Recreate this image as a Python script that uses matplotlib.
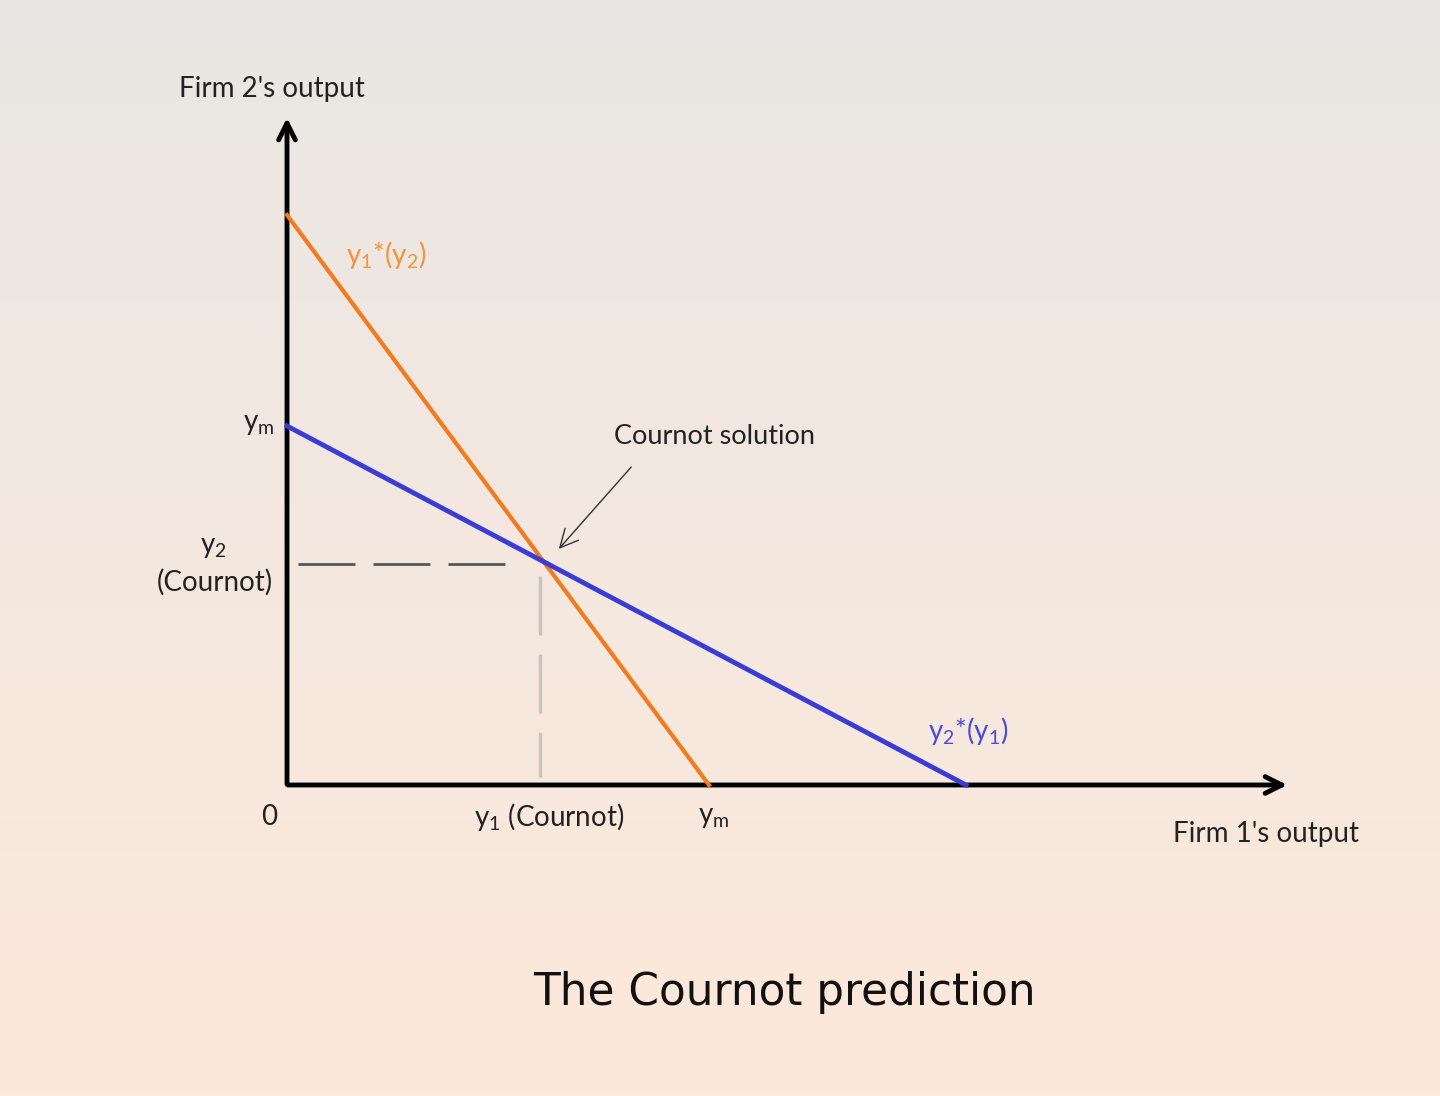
import numpy as np
import matplotlib.pyplot as plt
from matplotlib.colors import LinearSegmentedColormap

# Reaction functions (drawing units, origin at the axes corner)
orange_x = [0, 422]     # y1*(y2): firm 1's best response
orange_y = [570, 0]
blue_x = [0, 679]       # y2*(y1): firm 2's best response
blue_y = [359, 0]
cournot = (256, 221)    # intersection
ym_x = 422              # monopoly output on x axis
ym_y = 359              # monopoly output on y axis
x_end = 1003            # axis arrow tips
y_end = 670

plt.rcParams['font.family'] = ['Lato', 'DejaVu Sans']
plt.rcParams['mathtext.default'] = 'regular'

fig = plt.figure(figsize=(14.4, 10.96), dpi=100)
ax = fig.add_axes([0, 0, 1, 1])
ax.set_xlim(-287, 1440 - 287)
ax.set_ylim(-(1096 - 785), 785)
ax.axis('off')

# Background gradient, gray on top to peach at the bottom
cmap = LinearSegmentedColormap.from_list('bg', ['#fde9db', '#f4e8df', '#e9e7e4'])
grad = np.linspace(0, 1, 256).reshape(-1, 1)
ax.imshow(grad, cmap=cmap, aspect='auto', origin='lower',
          extent=[-287, 1440 - 287, -(1096 - 785), 785], zorder=0)

# Axes with arrows
ax.annotate('', xy=(x_end, 0), xytext=(-2, 0),
            arrowprops=dict(arrowstyle='->,head_length=1.2,head_width=0.6', lw=3.5, color='black'))
ax.annotate('', xy=(0, y_end), xytext=(0, -2),
            arrowprops=dict(arrowstyle='->,head_length=1.2,head_width=0.6', lw=3.5, color='black'))

# Dashed guides (drawn away from the axes so the pattern starts at the left / top)
ax.plot([11, cournot[0] - 21], [cournot[1], cournot[1]], color='#555555', lw=2,
        dashes=(20.5, 6.5), zorder=2)
ax.plot([253, 253], [cournot[1] - 12, 8], color='#c8c4c0', lw=2.5,
        dashes=(17, 5.5), zorder=2)

# Reaction lines
ax.plot(orange_x, orange_y, color='#f47a20', lw=3, zorder=3)
ax.plot(blue_x, blue_y, color='#3b3bd6', lw=3.5, zorder=3)

# Cournot solution pointer
ax.annotate('', xy=(cournot[0] + 14, cournot[1] + 13), xytext=(346, 320),
            arrowprops=dict(arrowstyle='->,head_length=1.3,head_width=0.65', lw=1, color='#333333'))
ax.text(427, 348, 'Cournot solution', fontsize=19.5, ha='center', va='center', color='#222222')

fs = 20
ax.text(-15, 785 - 89, "Firm 2's output", fontsize=fs, ha='center', va='center', color='#222222')
ax.text(979, 785 - 834, "Firm 1's output", fontsize=fs, ha='center', va='center', color='#222222')
ax.text(-18, 0 - 32, '0', fontsize=fs, ha='center', va='center', color='#222222')
ax.text(262, -32, '$y_1$ (Cournot)', fontsize=fs, ha='center', va='center', color='#222222')
ax.text(ym_x + 5, -32, '$y_m$', fontsize=fs, ha='center', va='center', color='#222222')
ax.text(-28, ym_y + 2, '$y_m$', fontsize=fs, ha='center', va='center', color='#222222')
ax.text(-74, 238, '$y_2$', fontsize=fs, ha='center', va='center', color='#222222')
ax.text(-72, 203, '(Cournot)', fontsize=fs, ha='center', va='center', color='#222222')
ax.text(99, 530, '$y_1$*($y_2$)', fontsize=fs, ha='center', va='center', color='#f7913c')
ax.text(681, 54, '$y_2$*($y_1$)', fontsize=fs, ha='center', va='center', color='#4a4ae0')

ax.text(497, 785 - 993, 'The Cournot prediction', fontsize=31.5, ha='center', va='center',
        color='#111111', family=['DejaVu Sans'])

fig.savefig('out.png', dpi=100)
